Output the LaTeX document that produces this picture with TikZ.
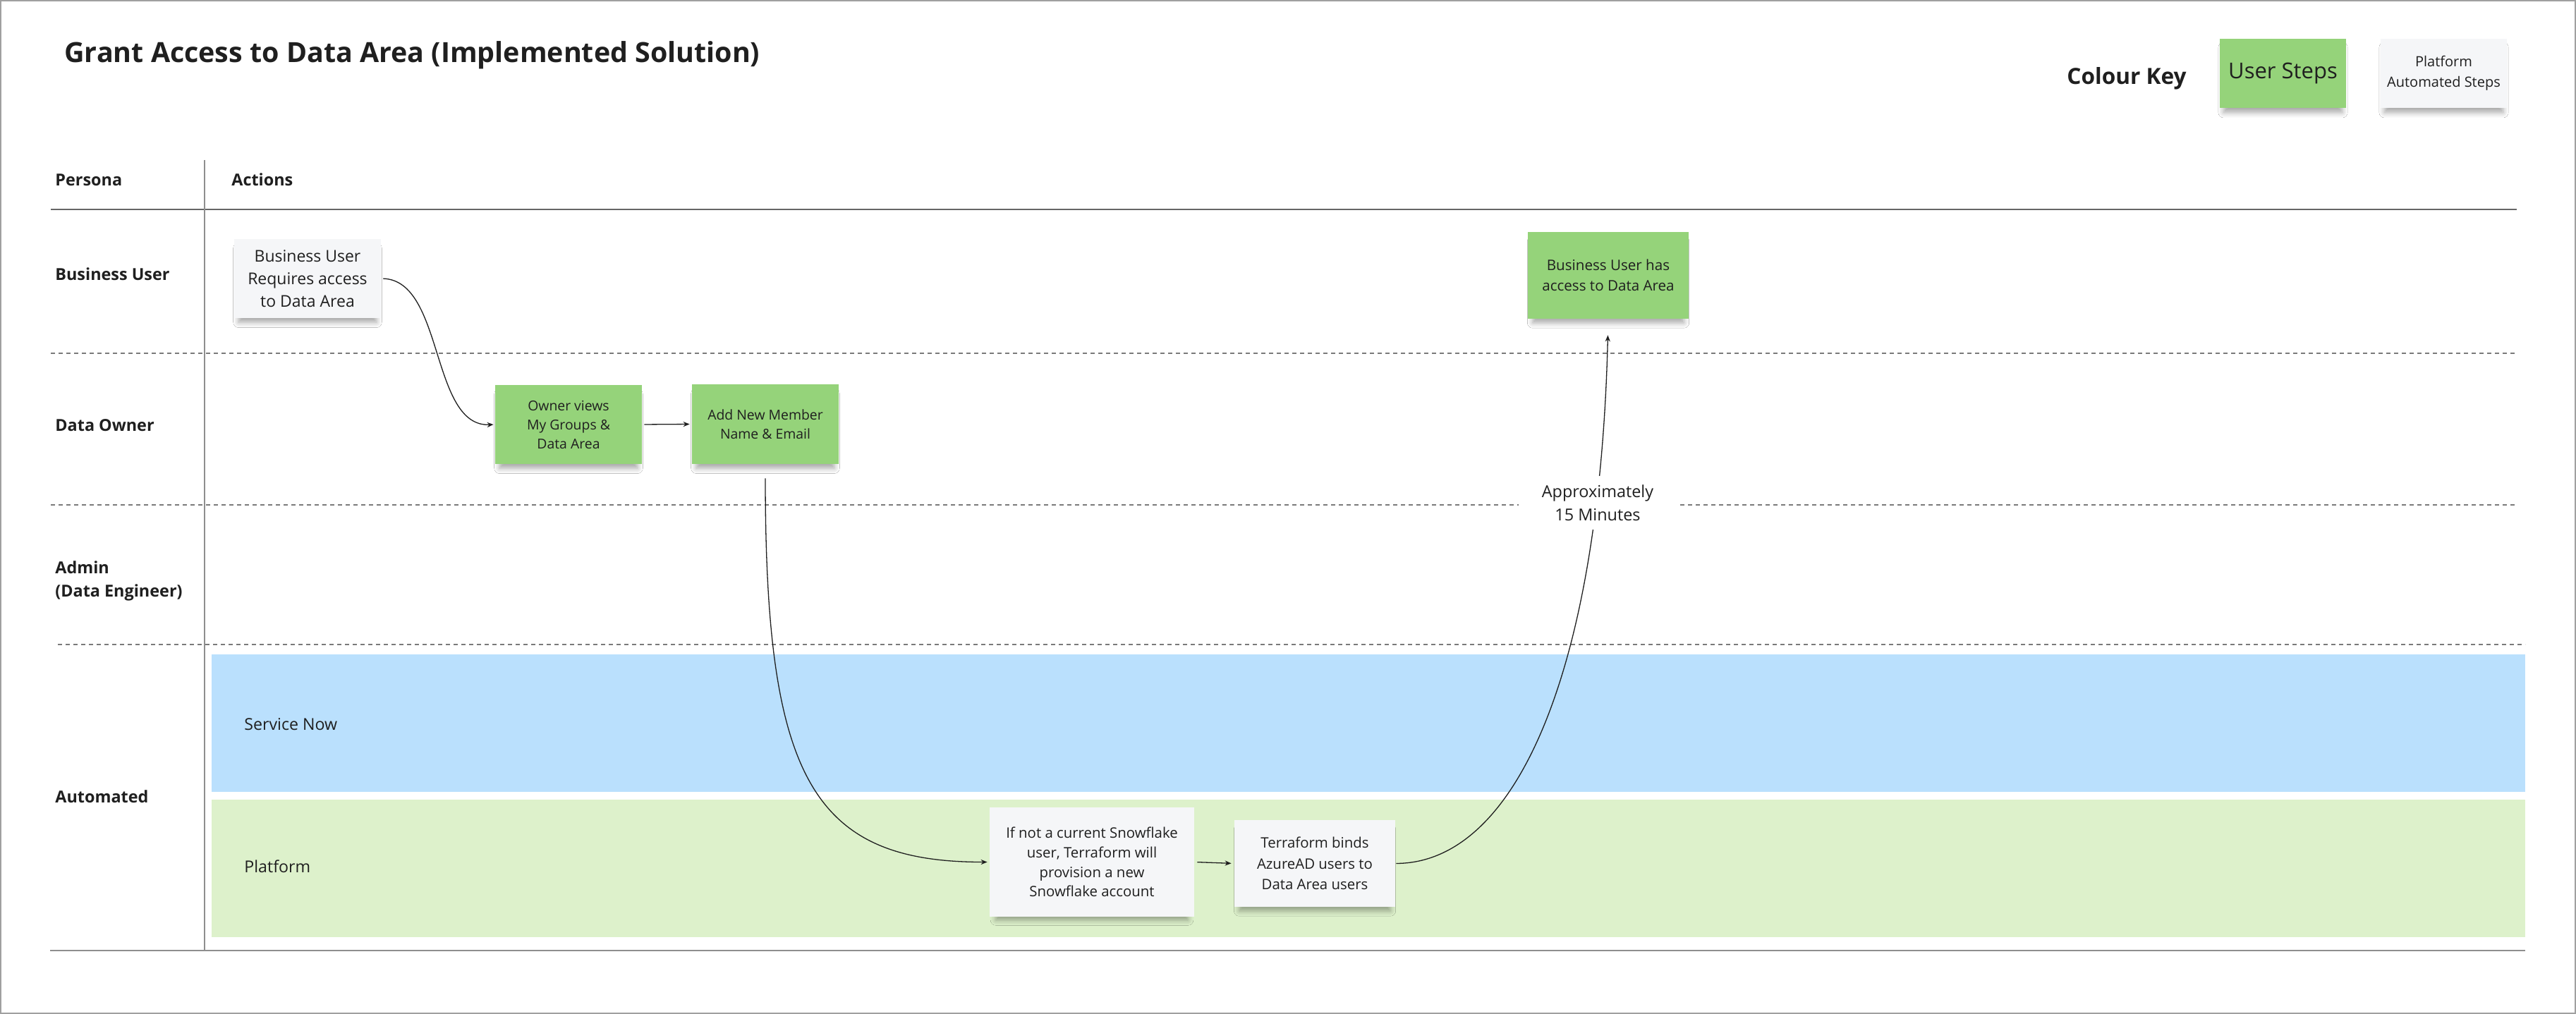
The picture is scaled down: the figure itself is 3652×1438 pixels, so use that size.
\documentclass[tikz,border=0pt]{standalone}
\usepackage{fontspec}
\setmainfont{Open Sans}
\usetikzlibrary{arrows.meta,shadows.blur}
\definecolor{ink}{HTML}{1F1F1F}
\definecolor{stickygreen}{HTML}{95D37A}
\definecolor{stickygray}{HTML}{F5F6F8}
\definecolor{bandblue}{HTML}{BAE0FD}
\definecolor{bandgreen}{HTML}{DDF1CB}
\definecolor{rulegray}{HTML}{7A7A7A}
\definecolor{framegray}{HTML}{A0A0A0}
\begin{document}
\begin{tikzpicture}[x=0.5pt,y=-0.5pt,
  note/.style={draw=none, inner sep=0pt, align=center, text=ink,
    blur shadow={shadow xshift=0pt, shadow yshift=-5pt, shadow opacity=35, shadow blur radius=4pt, shadow scale=0.94}},
  greennote/.style={note, fill=stickygreen},
  graynote/.style={note, fill=stickygray},
  lanelabel/.style={font=\fontsize{11.7}{15}\selectfont\bfseries, text=ink, inner sep=0pt, align=left},
  bandlabel/.style={font=\fontsize{11.6}{14}\selectfont, text=ink, inner sep=0pt},
  flow/.style={draw=ink, line width=0.65pt, -{Stealth[length=4.5pt,width=3.6pt]}},
  sepline/.style={draw=rulegray, line width=0.7pt, dash pattern=on 3pt off 2.5pt},
  solidline/.style={draw=rulegray!85, line width=1pt}
]
\useasboundingbox (0,0) rectangle (3652,1438);
\fill[white] (0,0) rectangle (3652,1438);
\draw[framegray, line width=1pt] (1,1) rectangle (3651,1437);

% title and key
\node[anchor=base west, inner sep=0pt, text=ink, font=\fontsize{19.7}{24}\selectfont\bfseries] (title) at (91,89) {Grant Access to Data Area (Implemented Solution)};
\node[anchor=base west, inner sep=0pt, text=ink, font=\fontsize{15.8}{18}\selectfont\bfseries] (key) at (2930,120) {Colour Key};
\node[greennote, minimum width=89.5pt, minimum height=49pt, font=\fontsize{15.5}{18}\selectfont] (keyuser) at (3236.5,104) {User Steps};
\node[graynote, minimum width=89.5pt, minimum height=49pt, font=\fontsize{10}{14.5}\selectfont] (keyplat) at (3464.5,104) {Platform\\Automated Steps};

% bands
\fill[bandblue] (300,928) rectangle (3580,1123);
\fill[bandgreen] (300,1134) rectangle (3580,1329);
\node[bandlabel, anchor=base west] (servicenow) at (346,1035) {Service Now};
\node[bandlabel, anchor=base west] (platform) at (346,1237) {Platform};

% grid lines
\draw[solidline, draw=black!60] (72,297) -- (3568,297);
\draw[solidline] (71,1348) -- (3580,1348);
\draw[solidline] (290,227) -- (290,1348);
\draw[sepline] (72,501) -- (3568,501);
\draw[sepline] (72,716) -- (3568,716);
\draw[sepline] (82,914) -- (3580,914);

% lane labels
\node[lanelabel, anchor=base west] (persona) at (78,264) {Persona};
\node[lanelabel, anchor=base west] (actions) at (328,264) {Actions};
\node[lanelabel, anchor=base west] (lbu) at (78,398) {Business User};
\node[lanelabel, anchor=base west] (ldo) at (78,611) {Data Owner};
\node[lanelabel, anchor=base west] (ladmin) at (78,813) {Admin};
\node[lanelabel, anchor=base west] (ladmin2) at (78,846) {(Data Engineer)};
\node[lanelabel, anchor=base west] (lauto) at (78,1138) {Automated};

% steps
\node[graynote, minimum width=104pt, minimum height=56pt, font=\fontsize{11.5}{16}\selectfont] (n1) at (436,395) {Business User\\Requires access\\to Data Area};
\node[greennote, minimum width=104pt, minimum height=56pt, font=\fontsize{9.7}{13.5}\selectfont] (n2) at (806,602) {Owner views\\My Groups \&\\Data Area};
\node[greennote, minimum width=104pt, minimum height=56.5pt, font=\fontsize{9.7}{13.5}\selectfont] (n3) at (1085,601.5) {Add New Member\\Name \& Email};
\node[greennote, minimum width=114pt, minimum height=61.5pt, font=\fontsize{10.3}{14.5}\selectfont] (n4) at (2280,390.5) {Business User has\\access to Data Area};
\node[graynote, minimum width=145pt, minimum height=77.5pt, font=\fontsize{10.2}{13.9}\selectfont] (n5) at (1548,1222.5) {If not a current Snowflake\\user, Terraform will\\provision a new\\Snowflake account};
\node[graynote, minimum width=114pt, minimum height=61.5pt, font=\fontsize{10.2}{14.7}\selectfont] (n6) at (1864,1224.5) {Terraform binds\\AzureAD users to\\Data Area users};

% connectors
\draw[flow, shorten <=1.5pt, shorten >=1pt] (n1.east) .. controls (630,398) and (610,606) .. (n2.west);
\draw[flow, shorten <=1.5pt, shorten >=1.5pt] (n2.east) -- (n3.west);
\draw[flow, shorten <=10pt, shorten >=1.5pt] (n3.south) .. controls (1085,1100) and (1150,1223) .. (n5.west);
\draw[flow, shorten <=2pt, shorten >=2pt] (n5.east) -- (n6.west);
\draw[flow, shorten <=0.5pt, shorten >=11.5pt] (n6.east) .. controls (2150,1224) and (2268,950) .. (n4.south);
\node[fill=white, inner sep=0pt, minimum width=112pt, minimum height=37.5pt, align=center, text=ink, font=\fontsize{11.7}{16.5}\selectfont] (approx) at (2265,713) {Approximately\\15 Minutes};
\end{tikzpicture}
\end{document}
